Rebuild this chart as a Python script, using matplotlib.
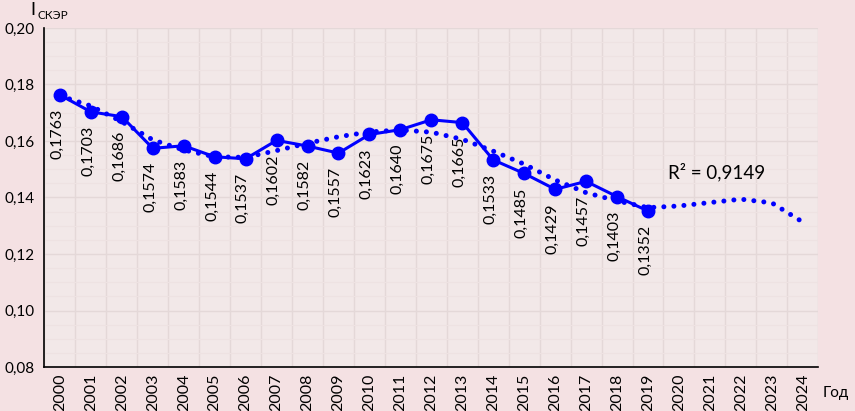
import numpy as np
import matplotlib
matplotlib.use("Agg")
import matplotlib.pyplot as plt
from matplotlib.ticker import MultipleLocator, FixedLocator

plt.rcParams['font.family'] = ['Lato', 'DejaVu Sans']

# Years on the category axis
years = [str(y) for y in range(2000, 2025)]

# I_СКЭР values (2000-2019)
values = [0.1763, 0.1703, 0.1686, 0.1574, 0.1583, 0.1544, 0.1537, 0.1602,
          0.1582, 0.1557, 0.1623, 0.1640, 0.1675, 0.1665, 0.1533, 0.1485,
          0.1429, 0.1457, 0.1403, 0.1352]
value_labels = ["0,1763", "0,1703", "0,1686", "0,1574", "0,1583", "0,1544",
                "0,1537", "0,1602", "0,1582", "0,1557", "0,1623", "0,1640",
                "0,1675", "0,1665", "0,1533", "0,1485", "0,1429", "0,1457",
                "0,1403", "0,1352"]

# polynomial trend (2000-2024)
trend = [0.1760, 0.1724, 0.1668, 0.1604, 0.1568, 0.1544, 0.1542, 0.1566,
         0.1592, 0.1615, 0.1632, 0.1639, 0.1631, 0.1606, 0.1564, 0.1518,
         0.1462, 0.1417, 0.1388, 0.1364, 0.1370, 0.1382, 0.1394, 0.1381,
         0.1313]

ytick_vals = [0.08, 0.10, 0.12, 0.14, 0.16, 0.18, 0.20]
ytick_labels = ["0,08", "0,10", "0,12", "0,14", "0,16", "0,18", "0,20"]

fig = plt.figure(figsize=(8.55, 4.11), dpi=100)
fig.patch.set_facecolor('#F4E1E3')
ax = fig.add_axes([0.052, 0.107, 0.905, 0.825])
ax.set_facecolor('#F2E8E8')

x = np.arange(len(years))
ax.plot(x[:len(trend)], trend, color='#0000FF', linewidth=3.6,
        linestyle=(0, (0.01, 2.0)), dash_capstyle='round', zorder=3)
ax.plot(x[:len(values)], values, color='#0000FF', linewidth=2.2,
        marker='o', markersize=9, zorder=4)

for xi, v, lab in zip(x, values, value_labels):
    ax.annotate(lab, (xi, v), xytext=(-2, -10), textcoords='offset points',
                rotation=90, ha='center', va='top', fontsize=11.5, color='black')

ax.text(21.2, 0.149, "R² = 0,9149", fontsize=13.5, ha='center', va='center')

ax.set_xlim(-0.5, len(years) - 0.5)
ax.set_ylim(0.08, 0.20)
ax.set_xticks(x)
ax.set_xticklabels(years, rotation=90, fontsize=11.5)
ax.set_yticks(ytick_vals)
ax.set_yticklabels(ytick_labels, fontsize=11)
ax.tick_params(axis='both', length=0)
ax.tick_params(axis='y', pad=7)
ax.tick_params(axis='x', pad=5)

# grid: category boundaries and horizontal lines
ax.xaxis.set_minor_locator(FixedLocator(np.arange(-0.5, len(years), 1.0)))
ax.yaxis.set_minor_locator(MultipleLocator(0.005))
ax.grid(which='minor', axis='x', color='#E4D8D8', linewidth=1.0)
ax.grid(which='major', axis='y', color='#E4D8D8', linewidth=1.0)
ax.grid(which='minor', axis='y', color='#EEE2E2', linewidth=0.8)
ax.tick_params(which='minor', length=0)
ax.set_axisbelow(True)

for s in ['top', 'right']:
    ax.spines[s].set_visible(False)
ax.spines['left'].set_linewidth(1.2)
ax.spines['bottom'].set_linewidth(1.2)

fig.text(0.035, 0.995, "I", fontsize=13, ha='left', va='top')
fig.text(0.044, 0.975, "СКЭР", fontsize=8.5, ha='left', va='top')
fig.text(0.962, 0.045, "Год", fontsize=11, ha='left', va='center')

fig.savefig("out.png", dpi=100, facecolor=fig.get_facecolor())
